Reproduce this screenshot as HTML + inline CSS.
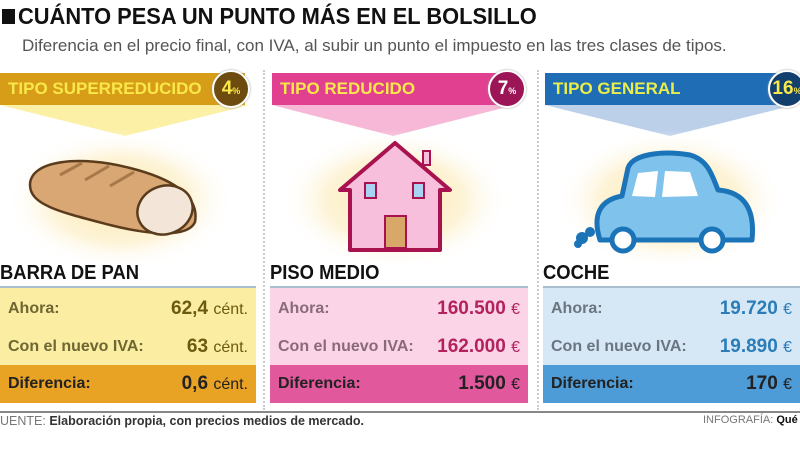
<!DOCTYPE html>
<html><head><meta charset="utf-8"><style>
body{margin:0;width:800px;height:450px;background:#fff;overflow:hidden;position:relative;font-family:"Liberation Sans",sans-serif}
.a{position:absolute;white-space:nowrap}
.title{left:18px;top:3px;font-size:23px;font-weight:bold;color:#111;transform:scaleX(0.95);transform-origin:left}
.sq{left:2px;top:9px;width:13px;height:15px;background:#111}
.sub{left:22px;top:36px;font-size:17px;color:#555;transform:scaleX(1.0);transform-origin:left}
.bar{top:73px;height:32px;font-weight:bold;font-size:17px;line-height:32px;padding-left:8px;box-sizing:border-box}
.circ{width:34px;height:34px;border-radius:50%;border:2px solid #fff;top:70px;color:#fff;font-weight:bold;font-size:19px;line-height:34px;text-align:center;box-shadow:0 0 2px #999}
.circ small{font-size:9px}
.lbl{top:262px;font-size:20px;font-weight:bold;color:#111;transform:scaleX(0.92);transform-origin:left}
.box{top:286px;height:116px;border-top:2px solid #a9bfd0;box-sizing:border-box}
.row{position:absolute;left:0;right:0;height:38px;font-weight:bold;font-size:16px;line-height:38px}
.row .l{position:absolute;left:8px}
.row .v{position:absolute;right:8px;font-size:19px}
.row .v span{font-weight:normal;font-size:16px}
.sep{top:70px;height:340px;border-left:2px dotted #ccc;width:0}
</style></head><body>
<div class="a sq"></div>
<div class="a title">CUÁNTO PESA UN PUNTO MÁS EN EL BOLSILLO</div>
<div class="a sub">Diferencia en el precio final, con IVA, al subir un punto el impuesto en las tres clases de tipos.</div>

<svg class="a" style="left:0;top:0" width="800" height="450">
<defs>
<radialGradient id="g"><stop offset="0" stop-color="#fce9b0"/><stop offset="0.6" stop-color="#fdf3d6"/><stop offset="1" stop-color="#fff" stop-opacity="0"/></radialGradient>
</defs>
<polygon points="0,105 250,105 125,136" fill="#fbf0a6"/>
<polygon points="272,105 515,105 393,136" fill="#f6b8d6"/>
<polygon points="545,105 795,105 670,136" fill="#bcd0ea"/>
<ellipse cx="120" cy="200" rx="115" ry="70" fill="url(#g)"/>
<ellipse cx="395" cy="200" rx="115" ry="70" fill="url(#g)"/>
<ellipse cx="670" cy="200" rx="115" ry="70" fill="url(#g)"/>
<!-- bread -->
<path d="M30,185 C30,160 80,155 130,168 C170,178 200,195 195,222 C188,238 150,235 110,225 C60,212 30,205 30,185Z" fill="#d9a774" stroke="#5a3b1c" stroke-width="2.5"/>
<ellipse cx="165" cy="210" rx="28" ry="24" fill="#f3e6d8" stroke="#5a3b1c" stroke-width="2.5" transform="rotate(-20 165 210)"/>
<path d="M60,175 l22,-12 M85,180 l24,-14 M110,186 l24,-14" stroke="#a6784a" stroke-width="3"/>
<!-- house -->
<polygon points="395,143 450,190 440,190 440,250 350,250 350,190 340,190" fill="#f8bfdc" stroke="#a8124f" stroke-width="4" stroke-linejoin="round"/>
<rect x="423" y="151" width="7" height="14" fill="#f8bfdc" stroke="#a8124f" stroke-width="2"/>
<rect x="365" y="183" width="11" height="15" fill="#a9d4f1" stroke="#a8124f" stroke-width="2"/>
<rect x="413" y="183" width="11" height="15" fill="#a9d4f1" stroke="#a8124f" stroke-width="2"/>
<rect x="385" y="216" width="21" height="32" fill="#d9a768" stroke="#a8124f" stroke-width="2"/>
<!-- car -->
<path d="M600,240 C592,215 600,200 622,196 L628,168 C632,155 660,150 690,155 C708,160 712,175 718,190 C745,192 755,210 752,240 Z" fill="#7fc3ec" stroke="#1b73b8" stroke-width="5" stroke-linejoin="round"/>
<path d="M632,196 L638,173 L658,171 L655,197Z M662,197 L665,171 L690,172 L698,196Z" fill="#fff"/>
<circle cx="623" cy="240" r="11" fill="#fff" stroke="#1b73b8" stroke-width="5"/>
<circle cx="712" cy="240" r="11" fill="#fff" stroke="#1b73b8" stroke-width="5"/>
<circle cx="582" cy="238" r="6" fill="#1b73b8"/><circle cx="590" cy="232" r="5" fill="#1b73b8"/><circle cx="578" cy="244" r="4" fill="#1b73b8"/>
<line x1="0" y1="412" x2="800" y2="412" stroke="#888" stroke-width="2"/>
</svg>

<div class="a sep" style="left:263px"></div>
<div class="a sep" style="left:537px"></div>

<div class="a bar" style="left:0;width:245px;background:#d89d18;color:#f9e84a">TIPO SUPERREDUCIDO</div>
<div class="a circ" style="left:212px;background:#6e4c0f;color:#f9e84a">4<small>%</small></div>
<div class="a bar" style="left:272px;width:232px;background:#e0408f;color:#f9e84a">TIPO REDUCIDO</div>
<div class="a circ" style="left:488px;background:#9b1557">7<small>%</small></div>
<div class="a bar" style="left:545px;width:245px;background:#1f6db5;color:#e9ee4a">TIPO GENERAL</div>
<div class="a circ" style="left:768px;background:#123f6e;color:#f9e84a">16<small>%</small></div>

<div class="a lbl" style="left:0">BARRA DE PAN</div>
<div class="a lbl" style="left:270px">PISO MEDIO</div>
<div class="a lbl" style="left:543px">COCHE</div>

<div class="a box" style="left:0;width:256px;background:#fbeda2">
 <div class="row" style="top:2px;color:#6e6633"><span class="l">Ahora:</span><span class="v" style="color:#6b5a10">62,4 <span>cént.</span></span></div>
 <div class="row" style="top:40px;color:#6e6633"><span class="l">Con el nuevo IVA:</span><span class="v" style="color:#6b5a10">63 <span>cént.</span></span></div>
 <div class="row" style="top:77px;background:#e8a224;color:#222"><span class="l">Diferencia:</span><span class="v">0,6 <span>cént.</span></span></div>
</div>
<div class="a box" style="left:270px;width:258px;background:#fbd5e7">
 <div class="row" style="top:2px;color:#8a6a7a"><span class="l">Ahora:</span><span class="v" style="color:#b3225f">160.500 <span>€</span></span></div>
 <div class="row" style="top:40px;color:#8a6a7a"><span class="l">Con el nuevo IVA:</span><span class="v" style="color:#b3225f">162.000 <span>€</span></span></div>
 <div class="row" style="top:77px;background:#e2589d;color:#222"><span class="l">Diferencia:</span><span class="v">1.500 <span>€</span></span></div>
</div>
<div class="a box" style="left:543px;width:257px;background:#d6e7f6">
 <div class="row" style="top:2px;color:#6a7580"><span class="l">Ahora:</span><span class="v" style="color:#2a7db9">19.720 <span>€</span></span></div>
 <div class="row" style="top:40px;color:#6a7580"><span class="l">Con el nuevo IVA:</span><span class="v" style="color:#2a7db9">19.890 <span>€</span></span></div>
 <div class="row" style="top:77px;background:#4d9bd7;color:#222"><span class="l">Diferencia:</span><span class="v">170 <span>€</span></span></div>
</div>

<div class="a" style="left:0;top:414px;font-size:12.5px;color:#333"><span style="color:#777">UENTE:</span> <b>Elaboración propia, con precios medios de mercado.</b></div>
<div class="a" style="left:703px;top:414px;font-size:11px;color:#777">INFOGRAFÍA: <b style="color:#111">Qué</b></div>
</body></html>
